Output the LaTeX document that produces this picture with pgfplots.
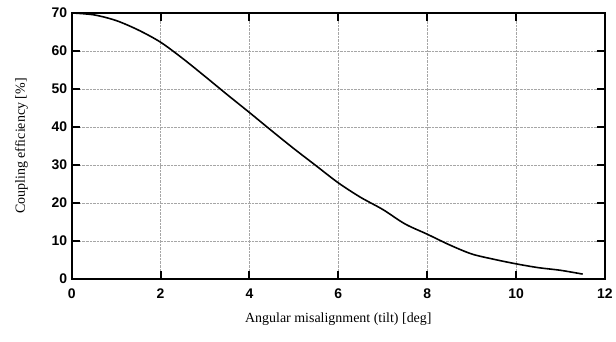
\documentclass[border=0pt]{standalone}
\usepackage{fontspec}
\setmainfont{Liberation Serif}
\setsansfont{Liberation Sans}
\usepackage{pgfplots}
\pgfplotsset{compat=1.18}
\begin{document}
\begin{tikzpicture}
\begin{axis}[
  scale only axis,
  width=535pt, height=267pt,
  xmin=0, xmax=12, ymin=0, ymax=70,
  xtick={0,2,...,12}, ytick={0,10,...,70},
  tick align=inside,
  major tick length=8pt,
  tick style={line width=2pt, black},
  axis line style={line width=2pt},
  grid=major,
  grid style={densely dotted, line width=0.6pt, gray!70},
  ticklabel style={font=\sffamily\bfseries\fontsize{14}{14}\selectfont},
  yticklabel style={xshift=-1pt},
  xticklabel style={yshift=-6pt},
  /pgf/number format/assume math mode=true,
  xlabel={Angular misalignment (tilt) [deg]},
  ylabel={Coupling efficiency [\%]},
  label style={font=\fontsize{14}{14}\selectfont},
  xlabel style={yshift=-8pt},
  ylabel style={yshift=17pt},
]
\addplot[black, line width=1.6pt, smooth] coordinates {
(0,70) (0.5,69.5) (1,68) (1.5,65.5) (2,62.3) (2.5,58) (3,53.3) (3.5,48.5)
(4,43.8) (4.5,39) (5,34.3) (5.5,29.8) (6,25.3) (6.5,21.5) (7,18.3) (7.5,14.5)
(8,11.8) (8.5,9) (9,6.6) (9.5,5.2) (10,4) (10.5,3) (11,2.3) (11.5,1.3)
};
\end{axis}
\path ([yshift=13pt,xshift=-72pt]current axis.north west) ([yshift=-63pt,xshift=9pt]current axis.south east);
\end{tikzpicture}
\end{document}
